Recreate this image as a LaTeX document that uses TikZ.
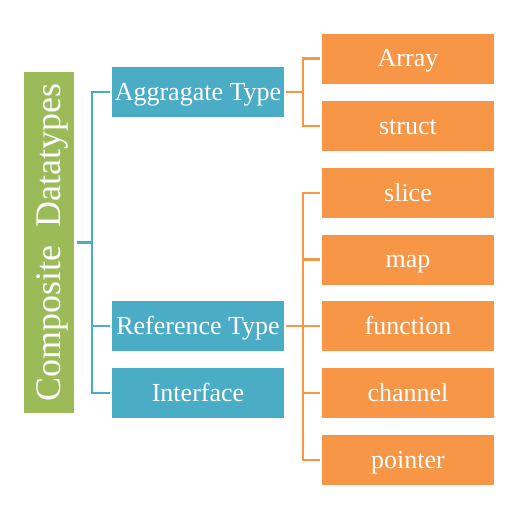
\documentclass[tikz,border=0pt]{standalone}
\usepackage{fontspec}
\setmainfont{Liberation Serif}
\usepackage{tikz}
\usetikzlibrary{calc}

\definecolor{gobox}{HTML}{9BBB59}
\definecolor{bluebox}{HTML}{4BACC6}
\definecolor{orangebox}{HTML}{F79646}

\tikzset{
    kind/.style = {fill = bluebox, text = white, minimum width = 172pt, minimum height = 50pt, inner sep = 0pt, text height = 17pt, text depth = 1pt, font = \fontsize{26}{30}\selectfont},
    leaf/.style = {kind, fill = orangebox},
    bline/.style = {draw = bluebox, line width = 2.6pt},
    oline/.style = {draw = orangebox, line width = 2.6pt}
}

\begin{document}
\begin{tikzpicture}[x = 1pt, y = -1pt]
    \useasboundingbox (0,0) rectangle (523,512);
    \node[fill = gobox, text = white, rotate = 90, minimum width = 341pt, minimum height = 50pt, inner sep = 0pt, text height = 25pt, text depth = 3pt, font = \fontsize{36}{40}\selectfont](root) at (49,242.5){Composite~ Datatypes};
    \node[kind](agg) at (198,92){Aggragate Type};
    \node[kind](ref) at (198,326){Reference Type};
    \node[kind](iface) at (198,393){Interface};
    \node[leaf](arr) at (408,58.5){Array};
    \node[leaf](strc) at (408,126){struct};
    \node[leaf](slice) at (408,193){slice};
    \node[leaf](map) at (408,259.5){map};
    \node[leaf](func) at (408,326){function};
    \node[leaf](chan) at (408,393){channel};
    \node[leaf](ptr) at (408,460){pointer};
    % blue tree
    \coordinate (B) at (92,0);
    \draw[bline] ([xshift = 3pt]root.south) -- (B |- root.south);
    \draw[bline] ([xshift = -2pt]agg.west) -| (B |- iface.west) -- ([xshift = -2pt]iface.west);
    \draw[bline] ([xshift = -2pt]ref.west) -- (B |- ref.west);
    % orange trees
    \coordinate (O) at (303,0);
    \draw[oline] ([xshift = 2pt]agg.east) -- (O |- agg.east);
    \draw[oline] ([xshift = -2pt]arr.west) -| (O |- strc.west) -- ([xshift = -2pt]strc.west);
    \draw[oline] ([xshift = 2pt]ref.east) -- (O |- ref.east);
    \draw[oline] ([xshift = -2pt]slice.west) -| (O |- ptr.west) -- ([xshift = -2pt]ptr.west);
    \draw[oline] ([xshift = -2pt]map.west) -- (O |- map.west);
    \draw[oline] ([xshift = -2pt]func.west) -- (O |- func.west);
    \draw[oline] ([xshift = -2pt]chan.west) -- (O |- chan.west);
\end{tikzpicture}
\end{document}
